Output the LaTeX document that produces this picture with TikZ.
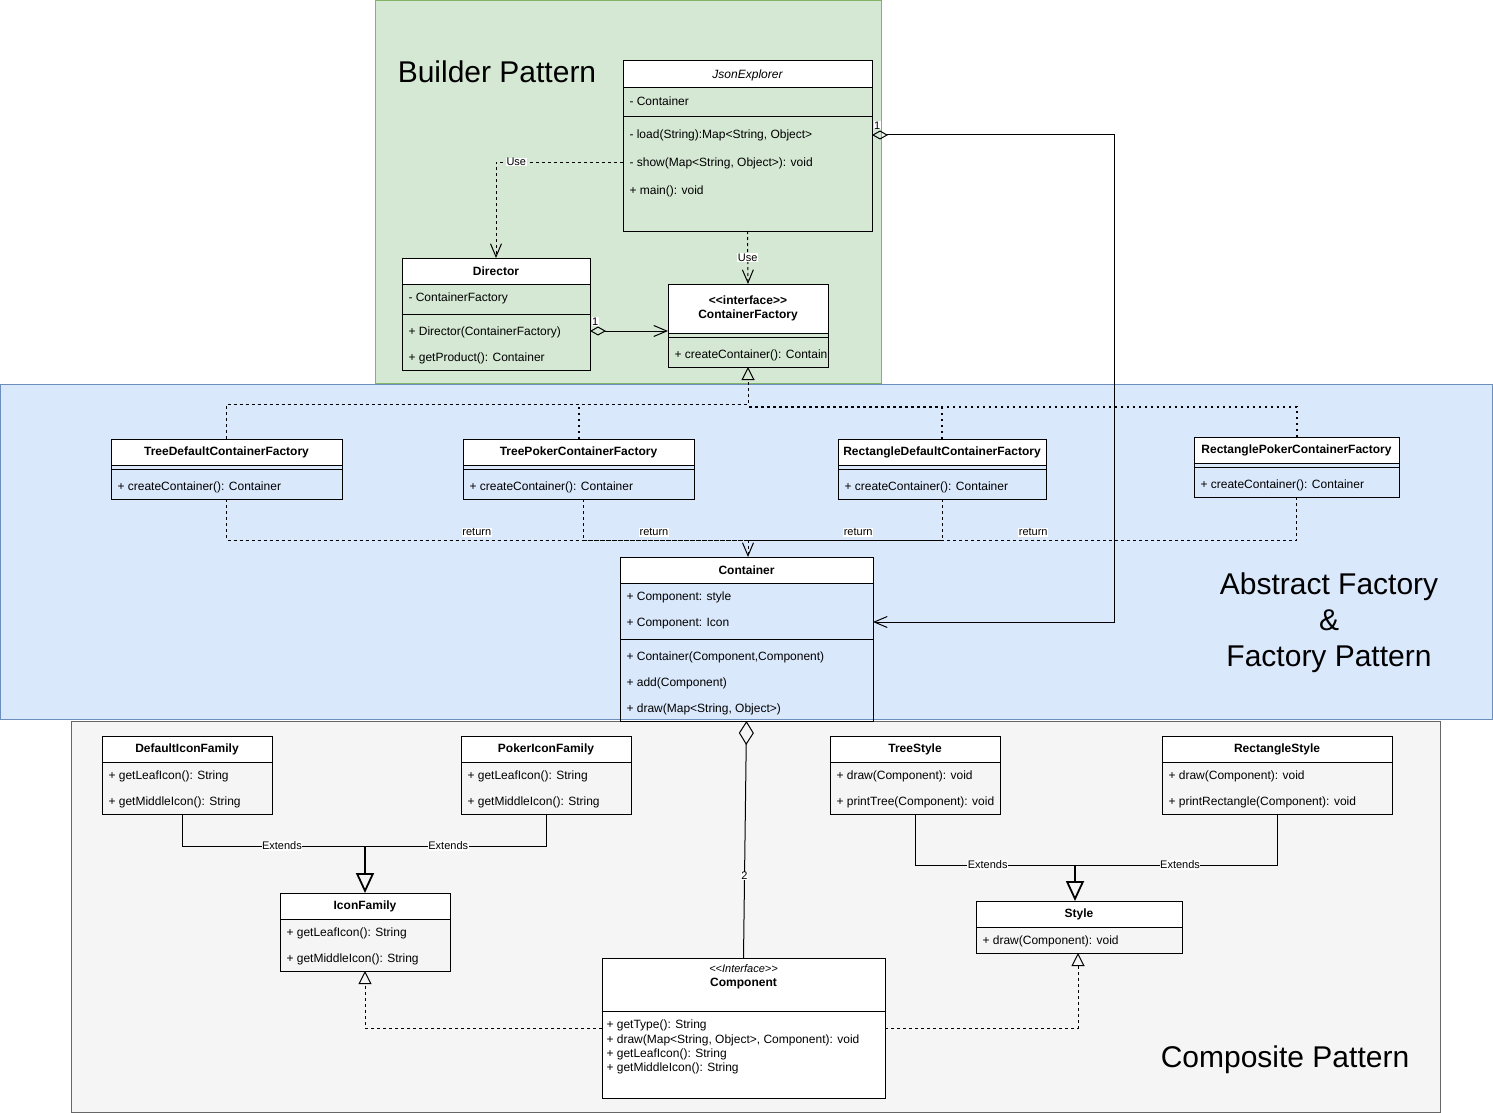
\documentclass[tikz,border=0pt]{standalone}
\usepackage{fontspec}
\setmainfont{Liberation Sans}
\usetikzlibrary{arrows.meta}

\definecolor{bgreen}{HTML}{D5E8D4}
\definecolor{lgreen}{HTML}{82B366}
\definecolor{bblue}{HTML}{DAE8FC}
\definecolor{lblue}{HTML}{6C8EBF}
\definecolor{bgrey}{HTML}{F5F5F5}
\definecolor{lgrey}{HTML}{666666}

\tikzset{
  hdr/.style={draw, fill=white, inner sep=0pt, outer sep=0pt, anchor=north west,
    font=\bfseries\fontsize{12}{14}\selectfont},
  body/.style={draw, inner sep=0pt, outer sep=0pt, anchor=north west},
  item/.style={anchor=west, inner sep=0pt, yshift=-1.5pt, font=\fontsize{12}{14}\selectfont},
  lbl/.style={fill=white, inner sep=0.5pt, font=\fontsize{11}{13}\selectfont},
  mult/.style={lbl, pos=0, anchor=south west, xshift=1pt, yshift=5pt},
  dep/.style={dash pattern=on 3pt off 3pt},
  dotline/.style={line width=2pt, dash pattern=on 2pt off 4pt},
  title/.style={font=\fontsize{30}{36}\selectfont, align=center},
  opv/.tip={Straight Barb[length=13pt,width=11pt]},
  tri/.tip={Triangle[open,length=13pt,width=13pt]},
  bigtri/.tip={Triangle[open,length=20pt,width=18pt]},
  dia/.tip={Diamond[open,length=16pt,width=9pt]},
  bigdia/.tip={Diamond[open,length=24pt,width=15pt]},
}

\begin{document}
\begin{tikzpicture}[x=1pt, y=-1pt, line width=1pt]
  \useasboundingbox (0,0) rectangle (1493,1113);
  % pattern areas
  \draw[lgreen, fill=bgreen] (375.5,0.5) rectangle (881,383);
  \draw[lblue, fill=bblue] (0.5,384.5) rectangle (1492.5,719);
  \draw[lgrey, fill=bgrey] (71,721) rectangle (1440,1112);

  \node[title] (tb) at (497,72) {Builder Pattern};
  \node[title] (ta) at (1329,623) {Abstract Factory\\\&\\Factory Pattern};
  \node[title] (tc) at (1285,1060) {Composite Pattern};

  % builder
  \node[hdr, minimum width=249, minimum height=27, text height=9pt, text depth=0pt,
    font=\itshape\fontsize{12}{14}\selectfont] (jx) at (623,61) {JsonExplorer};
  \node[body, minimum width=249, minimum height=143] (mjx) at (jx.south west) {};
  \draw (623,117) -- (872,117);
  \foreach \y/\t [count=\i] in {100/{- Container}, 134/{- load(String):Map<String, Object>},
      162/{- show(Map<String, Object>): void}, 190/{+ main(): void}}
    \node[item] (jx\i) at (629,\y) {\t};

  \node[hdr, minimum width=188, minimum height=26] (dir) at (402,258) {Director};
  \node[body, minimum width=188, minimum height=86] (mdir) at (dir.south west) {};
  \draw (402,314) -- (590,314);
  \foreach \y/\t [count=\i] in {297/{- ContainerFactory}, 331/{+ Director(ContainerFactory)},
      357/{+ getProduct(): Container}}
    \node[item] (dir\i) at (408,\y) {\t};

  \node[hdr, minimum width=160, minimum height=49, align=center] (cf) at (668,284)
    {<\kern0pt<interface>\kern0pt>\\ContainerFactory};
  \node[body, minimum width=160, minimum height=34] (mcf) at (cf.south west) {};
  \draw (668,337) -- (828,337);
  \node[item] (cf1) at (674,354) {+ createContainer(): Contain};

  \draw[dep, -{opv}] (mjx.west |- 0,162) -| node[lbl, pos=0.42] (u1) {Use} (dir.north);
  \draw[dep, -{opv}] (mjx.south) -- node[lbl] (u2) {Use} (cf.north);
  \draw[{dia}-{opv}] (mdir.east |- 0,331) -- node[mult] (n1) {1} (cf.west |- 0,331);

  % abstract factory
  \foreach \n/\x/\y/\w/\t in {tdf/111/439/231/TreeDefaultContainerFactory,
      tpf/463/439/231/TreePokerContainerFactory,
      rdf/838/439/208/RectangleDefaultContainerFactory,
      rpf/1194/437/205/RectanglePokerContainerFactory} {
    \node[hdr, minimum width=\w, minimum height=26] (\n) at (\x,\y) {\t};
    \node[body, minimum width=\w, minimum height=34] (m\n) at (\n.south west) {};
    \draw ([yshift=-4pt]\n.south west) -- ([yshift=-4pt]\n.south east);
    \node[item] (\n1) at ([xshift=6pt, yshift=-21pt]\n.south west) {+ createContainer(): Container};
  }

  \node[hdr, minimum width=253, minimum height=26] (ct) at (620,557) {Container};
  \node[body, minimum width=253, minimum height=138] (mct) at (ct.south west) {};
  \draw (620,639) -- (873,639);
  \foreach \y/\t [count=\i] in {596/{+ Component: style}, 622/{+ Component: Icon},
      656/{+ Container(Component,Component)}, 682/{+ add(Component)},
      708/{+ draw(Map<String, Object>)}}
    \node[item] (ct\i) at (626,\y) {\t};

  \coordinate (rl) at (748,404);
  \coordinate (rr) at (748,407);
  \draw[dep, -{tri}] (tdf.north) |- (rl) -- (mcf.south);
  \draw[dotline] (tpf.north) -- (tpf.north |- rl);
  \draw[dotline] (rdf.north) |- (rr);
  \draw[dotline] (rpf.north) |- (rr);

  \coordinate (ret) at (748,540);
  \draw[dep] (mtdf.south) |- node[lbl, pos=0.74, above=3pt] (r1) {return} (ret);
  \draw[dep] ([xshift=4.5pt]mtpf.south) |- node[lbl, pos=0.715, above=3pt] (r2) {return} (ret);
  \draw[dep] (mrdf.south) |- node[lbl, pos=0.716, above=3pt] (r3) {return} (ret);
  \draw[dep] (mrpf.south) |- node[lbl, pos=0.74, above=3pt] (r4) {return} (ret);
  \draw[dep, -{opv}] (ret) -- (ret |- ct.north);

  \coordinate (agg) at (1114,622);
  \draw[{dia}-{opv}] (mjx.east |- 0,135) -| node[mult] (n2) {1} (agg) -- (mct.east |- agg);

  % composite
  \foreach \n/\x/\y/\w/\t/\a/\b in {dif/102/736/170/DefaultIconFamily/{+ getLeafIcon(): String}/{+ getMiddleIcon(): String},
      pif/461/736/170/PokerIconFamily/{+ getLeafIcon(): String}/{+ getMiddleIcon(): String},
      ts/830/736/170/TreeStyle/{+ draw(Component): void}/{+ printTree(Component): void},
      rs/1162/736/230/RectangleStyle/{+ draw(Component): void}/{+ printRectangle(Component): void},
      icf/280/893/170/IconFamily/{+ getLeafIcon(): String}/{+ getMiddleIcon(): String}} {
    \node[hdr, minimum width=\w, minimum height=26] (\n) at (\x,\y) {\t};
    \node[body, minimum width=\w, minimum height=52] (m\n) at (\n.south west) {};
    \node[item] (\n1) at ([xshift=6pt, yshift=-13pt]\n.south west) {\a};
    \node[item] (\n2) at ([xshift=6pt, yshift=-39pt]\n.south west) {\b};
  }

  \node[hdr, minimum width=206, minimum height=26] (sty) at (976,901) {Style};
  \node[body, minimum width=206, minimum height=26] (msty) at (sty.south west) {};
  \node[item] (sty1) at (982,940) {+ draw(Component): void};

  \node[body, fill=white, minimum width=283, minimum height=140] (mcomp) at (602,958) {};
  \draw (602,1011) -- (885,1011);
  \node[inner sep=0pt, font=\itshape\fontsize{11}{13}\selectfont] (cst) at (743.5,969) {<\kern0pt<Interface>\kern0pt>};
  \node[inner sep=0pt, font=\bfseries\fontsize{12}{14}\selectfont] (comp) at (743.5,984) {Component};
  \foreach \y/\t [count=\i] in {1024/{+ getType(): String}, 1039/{+ draw(Map<String, Object>, Component): void},
      1053/{+ getLeafIcon(): String}, 1067/{+ getMiddleIcon(): String}}
    \node[item] (comp\i) at (606,\y) {\t};

  \draw[{bigdia}-] (mct.south) -- node[lbl, pos=0.654] (two) {2} (mcomp.north);

  \coordinate (ij) at (365,846);
  \draw ([xshift=-5pt]mdif.south) |- node[lbl, pos=0.773] (e1) {Extends} (ij);
  \draw (mpif.south) |- node[lbl, pos=0.77] (e2) {Extends} (ij);
  \draw[line width=1.8pt, -{bigtri}] (ij) -- (icf.north);

  \coordinate (sj) at (1075,865);
  \draw (mts.south) |- node[lbl, pos=0.727] (e3) {Extends} (sj);
  \draw (mrs.south) |- node[lbl, pos=0.74] (e4) {Extends} (sj);
  \draw[line width=1.8pt, -{bigtri}] (sj) -- (sj |- sty.north);

  \coordinate (cr) at (744,1028);
  \draw[dep, -{tri}] (mcomp.west |- cr) -| (micf.south);
  \draw[dep, -{tri}] (mcomp.east |- cr) -| ([xshift=-1pt]msty.south);
\end{tikzpicture}
\end{document}
